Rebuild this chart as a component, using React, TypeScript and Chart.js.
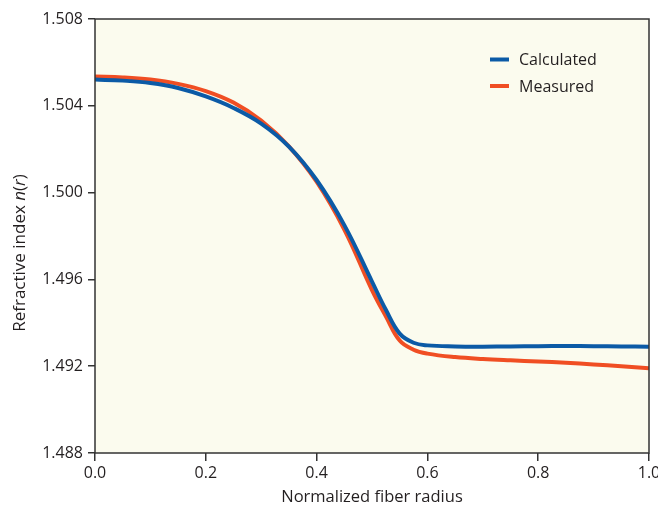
import React, { useEffect, useRef } from "react";
import { Chart, registerables } from "chart.js";

Chart.register(...registerables);

const radius = [0, 0.05, 0.1, 0.15, 0.2, 0.25, 0.3, 0.35, 0.4, 0.45, 0.5, 0.525, 0.55, 0.575, 0.6, 0.65, 0.7, 0.75, 0.8, 0.85, 0.9, 0.95, 1.0];
const calculated = [1.50521, 1.50516, 1.50505, 1.50482, 1.50443, 1.5039, 1.50318, 1.50212, 1.50058, 1.4985, 1.4959, 1.4946, 1.4935, 1.49308, 1.49296, 1.49291, 1.4929, 1.49291, 1.49292, 1.49293, 1.49292, 1.49291, 1.4929];
const measured = [1.50535, 1.50531, 1.50521, 1.50501, 1.50468, 1.50415, 1.50332, 1.50213, 1.5005, 1.4983, 1.49551, 1.4943, 1.49318, 1.49276, 1.49258, 1.49242, 1.49233, 1.49227, 1.49222, 1.49216, 1.49208, 1.492, 1.4919];
const seriesNames = ["Calculated", "Measured"];
const seriesColors = ["#0b5aa6", "#f04e23"];
const yTicks = [1.488, 1.492, 1.496, 1.5, 1.504, 1.508];
const xTicks = [0, 0.2, 0.4, 0.6, 0.8, 1.0];
const xTitle = "Normalized fiber radius";
const yTitleParts: [string, boolean][] = [["Refractive index ", false], ["n", true], ["(", false], ["r", true], [")", false]];

const FONT = "'Open Sans', sans-serif";
const TEXT = "#231f20";
const AXIS = "#333333";

const areaPlugin = {
  id: "areaDeco",
  beforeDraw(chart: any) {
    const { ctx, chartArea: a } = chart;
    ctx.save();
    ctx.fillStyle = "#fbfbee";
    ctx.fillRect(a.left, a.top, a.right - a.left, a.bottom - a.top);
    ctx.restore();
  },
  afterDraw(chart: any) {
    const { ctx, chartArea: a } = chart;
    ctx.save();
    ctx.strokeStyle = AXIS;
    ctx.lineWidth = 1.5;
    ctx.strokeRect(a.left, a.top, a.right - a.left, a.bottom - a.top);

    // y title with italic parts
    ctx.fillStyle = TEXT;
    ctx.textBaseline = "middle";
    const size = 17;
    let total = 0;
    const widths: number[] = [];
    for (const [t, it] of yTitleParts) {
      ctx.font = `${it ? "italic " : ""}${size}px ${FONT}`;
      const w = ctx.measureText(t).width;
      widths.push(w);
      total += w;
    }
    ctx.translate(20, 253);
    ctx.rotate(-Math.PI / 2);
    let x = -total / 2;
    yTitleParts.forEach(([t, it], i) => {
      ctx.font = `${it ? "italic " : ""}${size}px ${FONT}`;
      ctx.textAlign = "left";
      ctx.fillText(t, x, 0);
      x += widths[i];
    });
    ctx.restore();

    // legend
    ctx.save();
    ctx.font = `16px ${FONT}`;
    ctx.textBaseline = "middle";
    ctx.textAlign = "left";
    chart.data.datasets.forEach((ds: any, i: number) => {
      const y = 59.5 + i * 26.5;
      ctx.strokeStyle = ds.borderColor;
      ctx.lineWidth = 4;
      ctx.beginPath();
      ctx.moveTo(490, y);
      ctx.lineTo(509, y);
      ctx.stroke();
      ctx.fillStyle = TEXT;
      ctx.fillText(ds.label, 519, y + 1);
    });
    ctx.restore();
  },
};

export default function App() {
  const ref = useRef<HTMLCanvasElement | null>(null);
  useEffect(() => {
    if (!ref.current) return;
    const makeData = (vals: number[]) => radius.map((r, i) => ({ x: r, y: vals[i] }));
    const chart = new Chart(ref.current, {
      type: "line",
      data: {
        datasets: [calculated, measured].map((vals, i) => ({
          label: seriesNames[i],
          data: makeData(vals),
          borderColor: seriesColors[i],
          backgroundColor: seriesColors[i],
          borderWidth: 4,
          pointRadius: 0,
          tension: 0.4,
          fill: false,
        })),
      },
      options: {
        animation: false,
        responsive: true,
        maintainAspectRatio: false,
        layout: { padding: { left: 0, top: 19, right: 9, bottom: 0 } },
        plugins: { legend: { display: false }, tooltip: { enabled: false } },
        scales: {
          x: {
            type: "linear",
            min: 0,
            max: 1,
            afterBuildTicks: (s: any) => { s.ticks = xTicks.map((v) => ({ value: v })); },
            afterFit: (s: any) => { s.height = 54; s.paddingRight = 0; s.paddingLeft = 0; },
            grid: { drawOnChartArea: false, color: AXIS, tickLength: 8, lineWidth: 1.5 },
            border: { display: false },
            ticks: {
              color: TEXT,
              font: { family: FONT, size: 16 },
              padding: 3,
              callback: (v: any) => Number(v).toFixed(1),
            },
            title: {
              display: true,
              text: xTitle,
              color: TEXT,
              font: { family: FONT, size: 16.5 },
              padding: { top: 3, bottom: 0 },
            },
          },
          y: {
            type: "linear",
            min: 1.488,
            max: 1.508,
            afterBuildTicks: (s: any) => { s.ticks = yTicks.map((v) => ({ value: v })); },
            afterFit: (s: any) => { s.width = 95; s.paddingTop = 0; s.paddingBottom = 0; },
            grid: { drawOnChartArea: false, color: AXIS, tickLength: 7, lineWidth: 1.5 },
            border: { display: false },
            ticks: {
              color: TEXT,
              font: { family: FONT, size: 16 },
              padding: 5,
              callback: (v: any) => Number(v).toFixed(3),
            },
          },
        },
      },
      plugins: [areaPlugin],
    });
    return () => chart.destroy();
  }, []);
  return (
    <div style={{ position: "absolute", left: 0, top: 0, width: 658, height: 507, background: "#fff" }}>
      <canvas ref={ref} />
    </div>
  );
}
